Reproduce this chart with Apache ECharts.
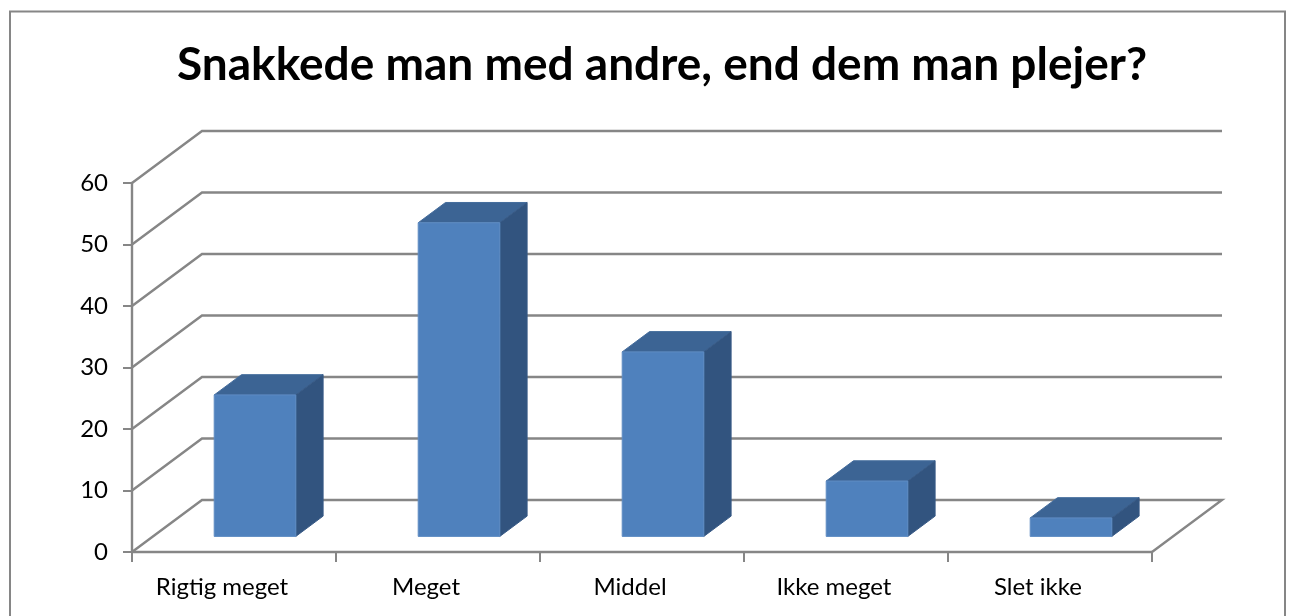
<!DOCTYPE html>
<html>
<head>
<meta charset="utf-8">
<title>Snakkede man med andre</title>
<script src="https://cdn.jsdelivr.net/npm/echarts@6/dist/echarts.min.js"></script>
<style>
  html, body { margin: 0; padding: 0; background: #fff; }
  #main { width: 1296px; height: 616px; }
</style>
</head>
<body>
<div id="main"></div>
<script>
const titleText = 'Snakkede man med andre, end dem man plejer?'
const categories = ['Rigtig meget', 'Meget', 'Middel', 'Ikke meget', 'Slet ikke']
const answers = [23, 51, 30, 9, 3]
const yTicks = [0, 10, 20, 30, 40, 50, 60]

// 3d look: the floor runs up and to the right
const DEPTH_X = 70
const DEPTH_Y = 52
const BAR_FRONT = 0.3 // share of the floor depth in front of the bar
const BAR_BACK = 0.69
const BAR_WIDTH = 0.4 // share of the category band

const GREY = '#868686'
const LINE_W = 2.4
const FONT = 'Lato, "Open Sans", sans-serif'

const chart = echarts.init(document.getElementById('main'))

function renderWall (params, api) {
  const sys = params.coordSys
  const y = api.coord([0, api.value(0)])[1]
  const left = sys.x
  const right = sys.x + sys.width
  let points = [[left, y], [left + DEPTH_X, y - DEPTH_Y], [right + DEPTH_X, y - DEPTH_Y]]
  // only the floor closes on the right hand side
  if (api.value(0) === 0) { points.push([right, y]) }
  return {
    type: 'polyline',
    shape: { points: points },
    style: { fill: 'none', stroke: GREY, lineWidth: LINE_W }
  }
}

function renderBar (params, api) {
  const base = api.coord([api.value(0), 0])
  const top = api.coord([api.value(0), api.value(1)])
  const w = api.size([1, 0])[0] * BAR_WIDTH
  const fx = BAR_FRONT * DEPTH_X
  const fy = BAR_FRONT * DEPTH_Y
  const dx = (BAR_BACK - BAR_FRONT) * DEPTH_X
  const dy = (BAR_BACK - BAR_FRONT) * DEPTH_Y
  const x0 = base[0] + fx - w / 2
  const x1 = x0 + w
  const yBase = base[1] - fy
  const yTop = top[1] - fy
  return {
    type: 'group',
    children: [
      {
        type: 'polygon',
        shape: { points: [[x0, yTop], [x0 + dx, yTop - dy], [x1 + dx, yTop - dy], [x1, yTop]] },
        style: { fill: '#3c6494', stroke: '#446c9c', lineWidth: 1 }
      },
      {
        type: 'polygon',
        shape: { points: [[x1, yTop], [x1 + dx, yTop - dy], [x1 + dx, yBase - dy], [x1, yBase]] },
        style: { fill: '#32547f', stroke: '#385a86', lineWidth: 1 }
      },
      {
        type: 'rect',
        shape: { x: x0, y: yTop, width: w, height: yBase - yTop },
        style: { fill: '#4f81bd', stroke: '#5f8cc3', lineWidth: 1 }
      }
    ]
  }
}

const option = {
  animation: false,
  backgroundColor: '#fff',
  title: {
    text: titleText,
    left: 657,
    top: 37,
    textAlign: 'center',
    textStyle: { color: '#000', fontFamily: FONT, fontWeight: 'bold', fontSize: 46 }
  },
  graphic: [
    {
      type: 'rect',
      silent: true,
      shape: { x: 10, y: 11.5, width: 1275, height: 620 },
      style: { fill: 'none', stroke: GREY, lineWidth: 2 }
    }
  ],
  grid: { left: 132, top: 183, width: 1020, height: 369 },
  xAxis: {
    type: 'category',
    data: categories,
    axisLine: { lineStyle: { color: GREY, width: LINE_W } },
    axisTick: { show: true, length: 10, lineStyle: { color: GREY, width: 2 } },
    axisLabel: {
      color: '#000',
      fontFamily: FONT,
      fontSize: 24,
      margin: 23,
      padding: [0, 24, 0, 0]
    }
  },
  yAxis: {
    type: 'value',
    min: 0,
    max: 60,
    interval: 10,
    axisLine: { show: true, lineStyle: { color: GREY, width: LINE_W } },
    axisTick: { show: true, length: 9, lineStyle: { color: GREY, width: 2 } },
    axisLabel: { color: '#000', fontFamily: FONT, fontSize: 24, margin: 24 },
    splitLine: { show: false }
  },
  series: [
    {
      name: 'walls',
      type: 'custom',
      silent: true,
      z: 1,
      renderItem: renderWall,
      encode: { y: 0 },
      data: yTicks.map(t => [t])
    },
    {
      name: 'Svar',
      type: 'custom',
      silent: true,
      z: 3,
      renderItem: renderBar,
      encode: { x: 0, y: 1 },
      data: answers.map((v, i) => [i, v])
    }
  ]
}

chart.setOption(option)
</script>
</body>
</html>
